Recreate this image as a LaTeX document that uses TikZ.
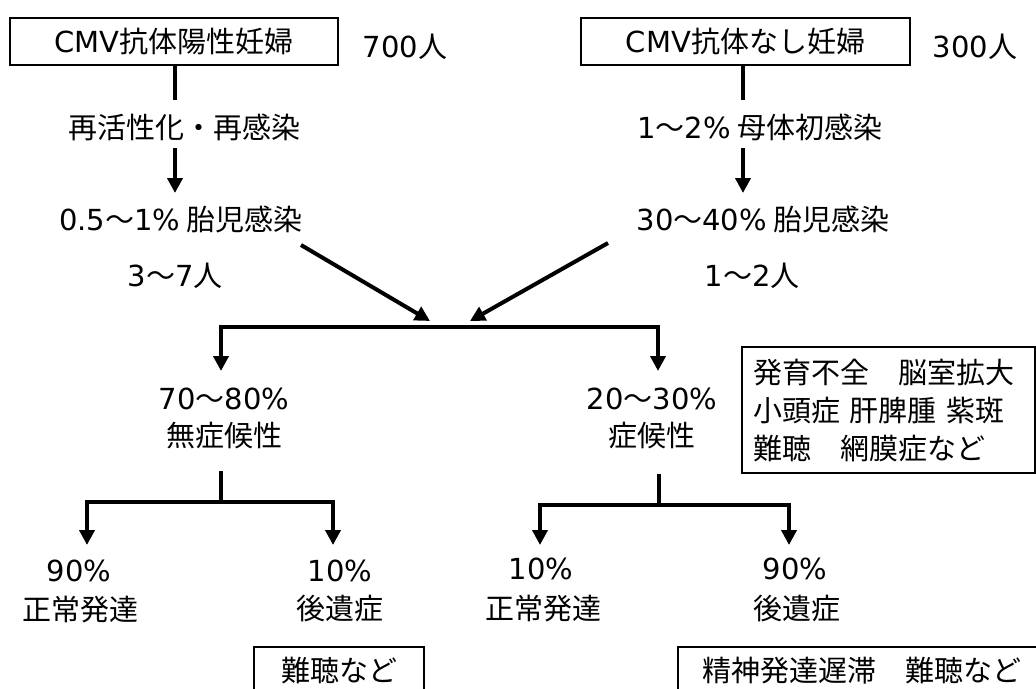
\documentclass[tikz,border=0pt]{standalone}
\usepackage{fontspec}
\setmainfont{Noto Sans CJK JP}
\newfontfamily\lat{DejaVu Sans}
\usetikzlibrary{arrows.meta}
\begin{document}
\begin{tikzpicture}[x=1pt,y=-1pt,
  every node/.style={font=\fontsize{29}{38}\selectfont, inner sep=0pt},
  box/.style={draw, line width=1.5pt, minimum height=47pt},
  thickline/.style={line width=4pt},
  arr/.style={line width=4pt, -{Triangle[width=15pt,length=15pt]}}]
\useasboundingbox (0,0) rectangle (1036,688);
\clip (0,0) rectangle (1036,688);
\fill[white] (0,0) rectangle (1036,688);

% top left branch
\node[box, minimum width=328pt] (b1) at (174,41.5) {{\lat CMV}抗体陽性妊婦};
\node (n700) at (405,47) {{\lat 700}人};
\node (r1) at (184,127) {再活性化・再感染};
\node (f1) at (181,219) {{\lat 0.5}〜{\lat 1\%} 胎児感染};
\node (p1) at (175,276) {{\lat 3}〜{\lat 7}人};

% top right branch
\node[box, minimum width=329pt] (b2) at (745.5,41.5) {{\lat CMV}抗体なし妊婦};
\node (n300) at (975,47) {{\lat 300}人};
\node (r2) at (760,127) {{\lat 1}〜{\lat 2\%} 母体初感染};
\node (f2) at (763,219) {{\lat 30}〜{\lat 40\%} 胎児感染};
\node (p2) at (752,276) {{\lat 1}〜{\lat 2}人};

% coordinates
\coordinate (l1e) at (175,100);
\coordinate (a1s) at (175,148);
\coordinate (a1e) at (175,193);
\coordinate (l2e) at (743,100);
\coordinate (a2s) at (743,148);
\coordinate (a2e) at (743,193);
\coordinate (d1s) at (301,245);
\coordinate (d1e) at (430,321);
\coordinate (d2s) at (608,243);
\coordinate (d2e) at (470,321);
\coordinate (hm) at (440,327);
\coordinate (a3e) at (221,371);
\coordinate (a4e) at (658,371);

\draw[thickline] (b1.south -| l1e) -- (l1e);
\draw[arr] (a1s) -- (a1e);
\draw[thickline] (b2.south -| l2e) -- (l2e);
\draw[arr] (a2s) -- (a2e);
\draw[arr] (d1s) -- (d1e);
\draw[arr] (d2s) -- (d2e);
\draw[arr] (hm) -| (a3e);
\draw[arr] (hm) -| (a4e);

% middle level
\node (s1a) at (224,399) {{\lat 70}〜{\lat 80\%}};
\node (s1b) at (224,436) {無症候性};
\node (s2a) at (652,399) {{\lat 20}〜{\lat 30\%}};
\node (s2b) at (652,436) {症候性};
\node[box, text width=271pt, inner xsep=11pt, minimum height=126pt, align=left] (sym) at (888.5,410)
  {発育不全　脳室拡大\\小頭症 肝脾腫 紫斑\\難聴　網膜症など};

% lower left subtree
\coordinate (st1) at (221,471);
\coordinate (j3) at (221,502);
\coordinate (a5e) at (87,545);
\coordinate (a6e) at (333,545);
\draw[thickline] (st1) -- (j3);
\draw[arr] (j3) -| (a5e);
\draw[arr] (j3) -| (a6e);
\node (c1a) at (79,571) {{\lat 90\%}};
\node (c1b) at (80,610) {正常発達};
\node (c2a) at (340,571) {{\lat 10\%}};
\node (c2b) at (340,609) {後遺症};

% lower right subtree
\coordinate (st2) at (659,474);
\coordinate (j4) at (659,505);
\coordinate (a7e) at (540,545);
\coordinate (a8e) at (789,545);
\draw[thickline] (st2) -- (j4);
\draw[arr] (j4) -| (a7e);
\draw[arr] (j4) -| (a8e);
\node (c3a) at (541,569) {{\lat 10\%}};
\node (c3b) at (543,609) {正常発達};
\node (c4a) at (795,569) {{\lat 90\%}};
\node (c4b) at (797,609) {後遺症};

% bottom boxes
\node[box, minimum width=170pt] (bx1) at (339,670.5) {難聴など};
\node[box, minimum width=368pt] (bx2) at (862,670.5) {精神発達遅滞　難聴など};
\end{tikzpicture}
\end{document}
